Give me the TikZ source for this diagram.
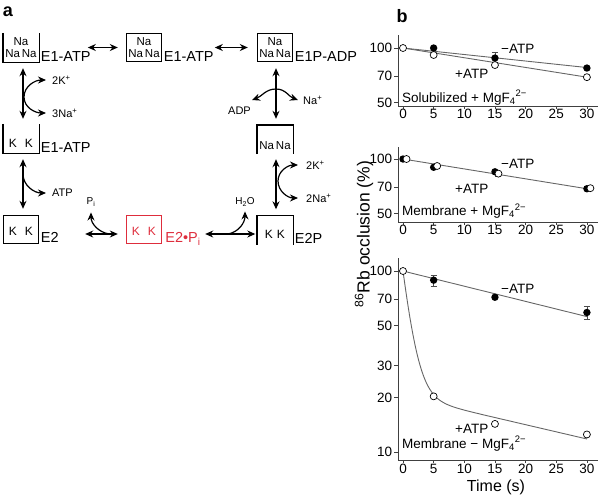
\documentclass[tikz,border=0pt]{standalone}
\usepackage{fontspec}
\setmainfont{Liberation Sans}
\usetikzlibrary{arrows.meta,calc}
\definecolor{redE}{RGB}{222,45,60}
\newcommand{\fs}[1]{\fontsize{#1}{#1}\selectfont}
\begin{document}
\begin{tikzpicture}[x=1pt,y=-1pt,
  bl/.style={line width=1.4pt},
  bx/.style={minimum width=35pt,minimum height=28pt,inner sep=0pt,line width=1.4pt},
  boxtxt/.style={font=\fontsize{11.5}{12}\selectfont, align=center, inner sep=0pt},
  ktxt/.style={font=\fs{12}, inner sep=0pt},
  lab/.style={font=\fs{14.5}, anchor=base west, inner sep=0pt},
  ion/.style={font=\fs{11}, anchor=west, inner sep=0pt},
  arr/.style={line width=1.2pt, -{Stealth[length=8pt,width=7pt]}},
  dbl/.style={line width=1.2pt, {Stealth[length=8pt,width=7pt]}-{Stealth[length=8pt,width=7pt]}},
  ax/.style={line width=0.8pt, black!75},
  tick/.style={font=\fs{13.5}, inner sep=0pt, text=black},
  dl/.style={line width=0.9pt, black!60},
  eb/.style={line width=0.7pt, black!70},
  fpt/.style={fill=black},
  opt/.style={fill=white, draw=black, line width=0.7pt},
  plab/.style={font=\fs{13.5}, anchor=base west, inner sep=0pt},
  declare function={tx(\t)=403+6.13*\t; ly(\v)=181*(2-log10(\v));
    slowfast(\t)=79.63*exp(-0.72*\t)+20.37*exp(-0.0182*\t);},
]
\useasboundingbox (0,0) rectangle (600,496);

% ---------------- panel a ----------------
\node[font=\bfseries\fs{18}] (pa) at (8,12) {a};

\node[bx] (b1) at (21,47.5) {};
\draw[bl] (b1.north west) -- (b1.south west) -- (b1.south east) -- (b1.north east);
\node[boxtxt] (t1) at (b1.center) {Na\\Na\,Na};
\node[lab] (l1) at ([xshift=1.5pt,yshift=1pt]b1.south east) {E1-ATP};

\node[bx,draw] (b2) at (144,47.5) {};
\node[boxtxt] (t2) at (b2.center) {Na\\Na\,Na};
\node[lab] (l2) at ([xshift=1.5pt,yshift=1pt]b2.south east) {E1-ATP};

\node[bx,draw] (b3) at (275,47.5) {};
\node[boxtxt] (t3) at (b3.center) {Na\\Na\,Na};
\node[lab] (l3) at ([xshift=1.5pt,yshift=1pt]b3.south east) {E1P-ADP};

\node[bx] (b4) at (275,139.5) {};
\draw[bl] (b4.south west) -- (b4.north west) -- (b4.north east) -- (b4.south east);
\node[boxtxt] (t4) at ([yshift=-6.5pt]b4.center) {Na\,Na};

\node[bx] (b5) at (21,138.5) {};
\draw[bl] (b5.north west) -- (b5.south west) -- (b5.south east) -- (b5.north east);
\node[ktxt] (t5) at ([yshift=-5pt]b5.center) {K\hspace{8pt}K};
\node[lab] (l5) at ([xshift=1.5pt,yshift=1pt]b5.south east) {E1-ATP};

\node[bx,draw] (b6) at (21,229.5) {};
\node[ktxt] (t6) at ([yshift=-2pt]b6.center) {K\hspace{8pt}K};
\node[lab] (l6) at ([xshift=1.5pt,yshift=1.5pt]b6.south east) {E2};

\node[bx,draw=redE] (b7) at (144,229.5) {};
\node[ktxt,text=redE] (t7) at ([yshift=-2pt]b7.center) {K\hspace{8pt}K};
\node[lab,text=redE] (l7) at ([xshift=3pt,yshift=1.5pt]b7.south east) {E2•P\textsubscript{i}};

\node[bx] (b8) at (275,230) {};
\draw[bl] (b8.south west) -- (b8.north west) -- (b8.north east) -- (b8.south east);
\node[ktxt] (t8) at ([yshift=-4pt]b8.center) {K\hspace{4pt}K};
\node[lab] (l8) at ([xshift=1.5pt,yshift=1.5pt]b8.south east) {E2P};

% horizontal arrows, top row
\draw[dbl] ([xshift=-3pt]l1.east |- b1.center) -- ([xshift=-8pt]b2.west);
\draw[dbl] ([xshift=1pt]l2.east |- b2.center) -- ([xshift=-9pt]b3.west);

% vertical arrows
\draw[dbl] ([xshift=2pt,yshift=-6pt]b1.south) -- ([xshift=2pt,yshift=5pt]b5.north);
\draw[dbl] ([xshift=1pt,yshift=-6pt]b3.south) -- ([xshift=1pt,yshift=6pt]b4.north);
\draw[dbl] ([xshift=1pt,yshift=-5pt]b4.south) -- ([xshift=1pt,yshift=6pt]b8.north);
\draw[dbl] ([xshift=2pt,yshift=-6pt]b5.south) -- ([xshift=2pt,yshift=6pt]b6.north);

% horizontal arrows, bottom row
\draw[dbl] ([xshift=46pt,yshift=-4.5pt]b6.east) -- ([xshift=-8pt,yshift=-4.5pt]b7.west);
\draw[dbl] ([xshift=43pt,yshift=-4.5pt]b7.east) -- ([xshift=-1.5pt,yshift=-4pt]b8.west);

% branch: 2K+ / 3Na+ (left)
\node[ion] (i1) at (52,80) {2K\textsuperscript{+}};
\node[ion] (i2) at (52,113) {3Na\textsuperscript{+}};
\coordinate (j1) at (24,97);
\draw[dbl] ([xshift=-6pt]i1.west) to[out=180,in=90] (j1) to[out=-90,in=180] ([xshift=-6pt]i2.west);

% branch: ATP
\node[ion] (i3) at (52,193) {ATP};
\coordinate (j2) at (23,174);
\draw[arr] (j2) to[out=-90,in=180] ([xshift=-6pt]i3.west);

% branch: ADP / Na+
\node[ion,anchor=east] (i4) at (251,111) {ADP};
\node[ion] (i5) at (303,100) {Na\textsuperscript{+}};
\coordinate (c4) at (252,100);
\coordinate (j3) at (276,89);
\draw[dbl] (c4) to[out=20,in=180] (j3) to[out=0,in=160] ([xshift=-5pt]i5.west);

% branch: 2K+ / 2Na+ (right)
\node[ion] (i6) at (306,165) {2K\textsuperscript{+}};
\node[ion] (i7) at (306,198) {2Na\textsuperscript{+}};
\coordinate (j4) at (278,181);
\draw[dbl] ([xshift=-8pt]i6.west) to[out=180,in=90] (j4) to[out=-90,in=180] ([xshift=-8pt]i7.west);

% branch: Pi
\node[font=\fs{10},inner sep=0pt] (i8) at (91,202) {P\textsubscript{i}};
\coordinate (j5) at (109,234);
\draw[arr] (j5) to[out=170,in=-90] ([yshift=-6pt]i8.south);

% branch: H2O
\node[font=\fs{10},inner sep=0pt] (i9) at (245,202) {H\textsubscript{2}O};
\coordinate (j6) at (228,234);
\draw[arr] (j6) to[out=10,in=-90] ([yshift=-5pt]i9.south);

% ---------------- panel b ----------------
\node[font=\bfseries\fs{18}] (pb) at (402,16) {b};

% plot 1
\draw[ax] (398,35) -- (398,106) -- (598,106);
\foreach \v in {100,70,50} \draw[ax] (398,{48+ly(\v)}) -- ++(-4,0) node[tick,left=1.5pt] {\v};
\foreach \t in {0,5,...,30} \draw[ax] ({tx(\t)},106) -- ++(0,3) node[tick,below] {\t};
\draw[dl] ({tx(0)},{48+ly(100)}) -- ({tx(30)},{48+ly(78)});
\draw[dl] ({tx(0)},{48+ly(100)}) -- ({tx(30)},{48+ly(69)});
\draw[eb] ({tx(15)-3},{48+ly(95)}) -- ({tx(15)+3},{48+ly(95)}) ({tx(15)},{48+ly(95)}) -- ({tx(15)},{48+ly(84)});
\foreach \t/\v in {5/100,15/88,30/77.5} \fill[fpt] ({tx(\t)},{48+ly(\v)}) circle (3.7);
\foreach \t/\v in {0/100,5/91.5,15/80.5,30/69} \filldraw[opt] ({tx(\t)},{48+ly(\v)}) circle (3.5);
\node[plab] (m1) at (501,53) {−ATP};
\node[plab] (p1) at (455,78) {+ATP};
\node[plab] (s1) at (402,102) {Solubilized + MgF\textsubscript{4}\textsuperscript{2−}};

% plot 2
\draw[ax] (398,147) -- (398,222) -- (598,222);
\foreach \v in {100,70,50} \draw[ax] (398,{159+ly(\v)}) -- ++(-4,0) node[tick,left=1.5pt] {\v};
\foreach \t in {0,5,...,30} \draw[ax] ({tx(\t)},222) -- ++(0,3) node[tick,below] {\t};
\draw[dl] ({tx(0)},{159+ly(100)}) -- ({tx(30)},{159+ly(68.5)});
\draw[eb] ({tx(15)+3.5-3},{159+ly(80)}) -- ({tx(15)+3.5+3},{159+ly(80)}) ({tx(15)+3.5},{159+ly(80)}) -- ({tx(15)+3.5},{159+ly(86)});
\foreach \t/\v in {0/100,5/90,15/85,30/68.5} \fill[fpt] ({tx(\t)},{159+ly(\v)}) circle (3.7);
\foreach \t/\v in {0/100,5/91.5,15/83,30/69} \filldraw[opt] ({tx(\t)+3.5},{159+ly(\v)}) circle (3.5);
\node[plab] (m2) at (501,168) {−ATP};
\node[plab] (p2) at (455,193) {+ATP};
\node[plab] (s2) at (402,215.5) {Membrane + MgF\textsubscript{4}\textsuperscript{2−}};

% plot 3
\draw[ax] (398,258) -- (398,460) -- (598,460);
\foreach \v in {100,70,50,30,20,10} \draw[ax] (398,{271+ly(\v)}) -- ++(-4,0) node[tick,left=1.5pt] {\v};
\foreach \t in {0,5,...,30} \draw[ax] ({tx(\t)},460) -- ++(0,3) node[tick,below=1pt] {\t};
\draw[dl] ({tx(0)},{271+ly(100)}) -- ({tx(30)},{271+ly(56)});
\draw[dl] plot[domain=0:30,samples=160,smooth] ({tx(\x)},{271+ly(slowfast(\x))});
\draw[eb] ({tx(5)-3},{271+ly(95)}) -- ({tx(5)+3},{271+ly(95)}) ({tx(5)},{271+ly(95)}) -- ({tx(5)},{271+ly(82)}) ({tx(5)-3},{271+ly(82)}) -- ({tx(5)+3},{271+ly(82)});
\draw[eb] ({tx(30)-3},{271+ly(64)}) -- ({tx(30)+3},{271+ly(64)}) ({tx(30)},{271+ly(64)}) -- ({tx(30)},{271+ly(54.3)}) ({tx(30)-3},{271+ly(54.3)}) -- ({tx(30)+3},{271+ly(54.3)});
\foreach \t/\v in {5/89,15/71.6,30/59} \fill[fpt] ({tx(\t)},{271+ly(\v)}) circle (3.7);
\foreach \t/\v in {0/100,5/20.3,15/14.3,30/12.5} \filldraw[opt] ({tx(\t)},{271+ly(\v)}) circle (3.5);
\node[plab] (m3) at (501,293) {−ATP};
\node[plab] (p3) at (455,433) {+ATP};
\node[plab] (s3) at (402,448) {Membrane − MgF\textsubscript{4}\textsuperscript{2−}};

% axis titles
\node[rotate=90,font=\fs{17.5}] (yl) at (364,234) {\textsuperscript{86}Rb occlusion (\%)};
\node[font=\fs{16}] (xl) at (496,487) {Time (s)};
\end{tikzpicture}
\end{document}
